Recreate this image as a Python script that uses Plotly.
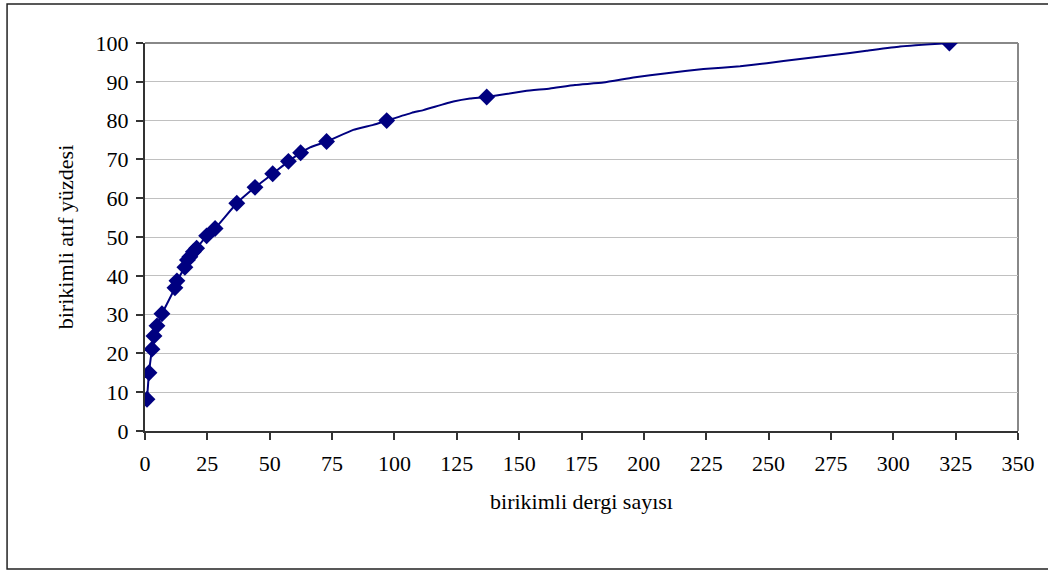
import plotly.graph_objects as go

# cumulative journal count (x) and cumulative citation percentage (y) - marked points
marker_x = [0.8, 1.6, 2.8, 3.6, 4.8, 6.8, 12.0, 12.8, 16.0, 17.0, 18.0, 19.4, 20.7,
            24.7, 28.1, 36.8, 44.1, 51.2, 57.5, 62.4, 72.8, 96.9, 137.0, 322.5]
marker_y = [8.2, 15.0, 21.1, 24.5, 27.1, 30.2, 36.9, 38.7, 42.2, 44.1, 44.9, 46.2, 47.1,
            50.3, 52.2, 58.7, 62.8, 66.3, 69.5, 71.7, 74.6, 80.0, 86.1, 100.0]

# full curve (includes unmarked intermediate points)
line_x = [0.8, 1.6, 2.8, 3.6, 4.8, 6.8, 12.0, 12.8, 16.0, 17.0, 18.0, 19.4, 20.7,
          24.7, 28.1, 36.8, 44.1, 51.2, 57.5, 62.4, 66.2, 72.8, 83.5, 91.5, 96.9,
          106.9, 111.6, 123.6, 130.3, 137.0, 152.4, 162.4, 172.4, 183.8, 195.8,
          209.2, 223.9, 238.6, 249.3, 262.6, 276.0, 289.3, 302.7, 322.5]
line_y = [8.2, 15.0, 21.1, 24.5, 27.1, 30.2, 36.9, 38.7, 42.2, 44.1, 44.9, 46.2, 47.1,
          50.3, 52.2, 58.7, 62.8, 66.3, 69.5, 71.7, 73.1, 74.6, 77.6, 78.9, 80.0,
          82.0, 82.7, 84.9, 85.7, 86.1, 87.6, 88.3, 89.2, 89.8, 91.1,
          92.2, 93.3, 94.0, 94.8, 95.9, 96.9, 98.0, 99.1, 100.0]

x_ticks = list(range(0, 351, 25))
y_ticks = list(range(0, 101, 10))

navy = "#000080"
font = "Liberation Serif, Times New Roman, serif"

fig = go.Figure()
fig.add_trace(go.Scatter(x=line_x, y=line_y, mode="lines",
                         line=dict(color=navy, width=2, shape="spline", smoothing=0.4),
                         hoverinfo="skip", showlegend=False))
fig.add_trace(go.Scatter(x=marker_x, y=marker_y, mode="markers",
                         marker=dict(symbol="diamond", size=13, color=navy),
                         showlegend=False))

fig.update_layout(
    width=1048, height=572,
    margin=dict(l=145, r=30, t=43, b=141),
    paper_bgcolor="white", plot_bgcolor="white",
    font=dict(family=font, size=22, color="black"),
    xaxis=dict(range=[0, 350], tickvals=x_ticks, showgrid=False, zeroline=False,
               showline=True, linecolor="#333333", linewidth=2, mirror=False,
               ticks="outside", ticklen=7, tickcolor="#333333", tickwidth=1.5,
               ticklabelstandoff=5,
               tickfont=dict(size=22),
               title=dict(text="birikimli dergi sayısı", standoff=18,
                          font=dict(size=22, family=font))),
    yaxis=dict(range=[0, 100], tickvals=y_ticks, showgrid=True, gridcolor="#c0c0c0",
               gridwidth=1, zeroline=False,
               showline=True, linecolor="#333333", linewidth=2,
               ticks="outside", ticklen=7, tickcolor="#333333", tickwidth=1.5,
               ticklabelstandoff=3,
               tickfont=dict(size=22),
               title=dict(text="birikimli atıf yüzdesi", standoff=16,
                          font=dict(size=22, family=font))),
    shapes=[
        # gray plot-area border on top and right
        dict(type="line", xref="paper", yref="paper", x0=0, x1=1, y0=1, y1=1,
             line=dict(color="#888888", width=2), layer="below"),
        dict(type="line", xref="paper", yref="paper", x0=1, x1=1, y0=0, y1=1,
             line=dict(color="#888888", width=2), layer="below"),
        # outer chart frame
        dict(type="rect", xref="paper", yref="paper", x0=-0.158, x1=1.04,
             y0=-0.3557, y1=1.1005, line=dict(color="#222222", width=1.5)),
    ],
)

fig.write_html("out.html", config={"displayModeBar": False},
               post_script="document.body.style.margin='0';document.body.style.overflow='hidden';")
